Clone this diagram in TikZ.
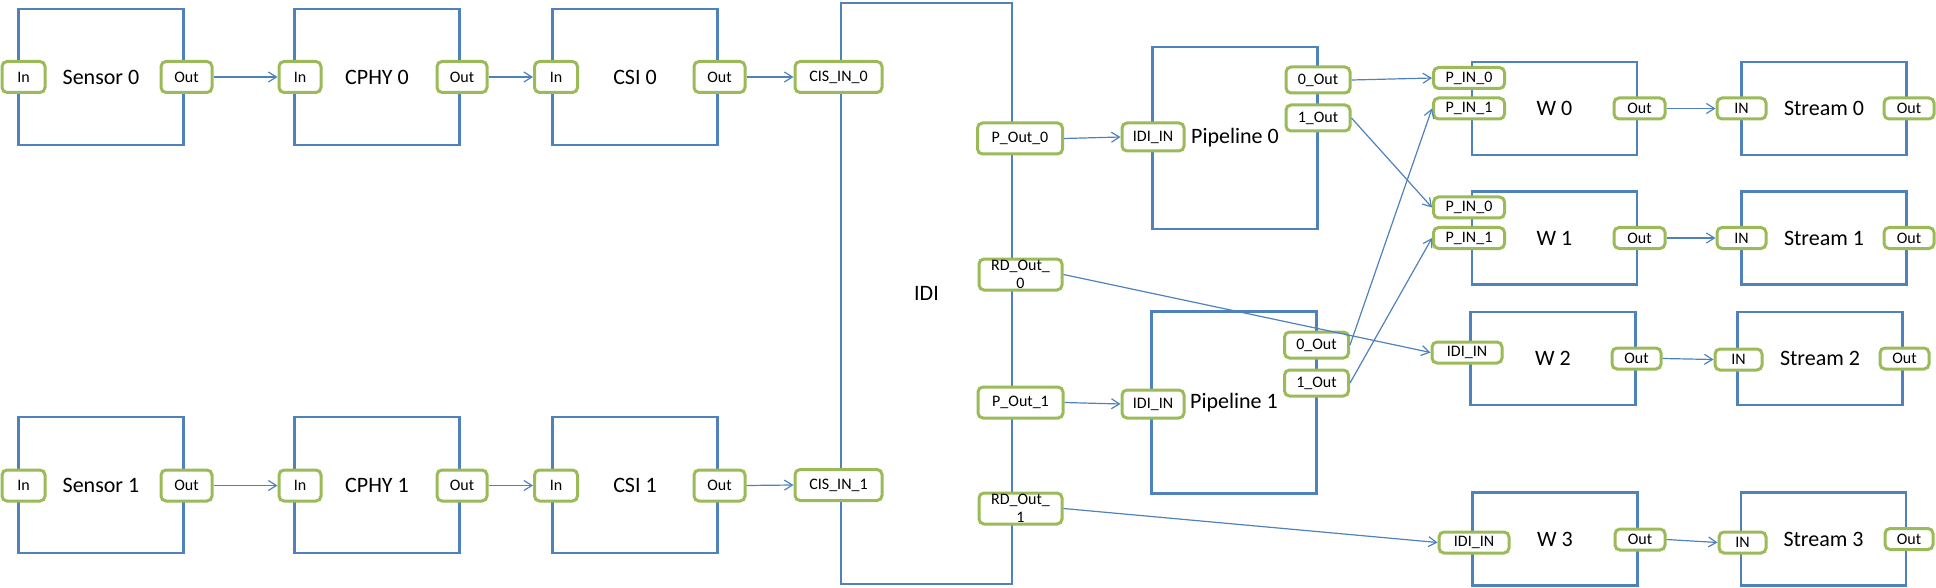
\documentclass[tikz,border=0pt]{standalone}
\usepackage{fontspec}
\setmainfont{Carlito}
\usepackage{tikz}
\usetikzlibrary{arrows.meta}
\definecolor{boxblue}{HTML}{4F81BD}
\definecolor{portgreen}{HTML}{9BBB59}
\tikzset{%
	block/.style = {draw=boxblue, line width=1.4pt, fill=white, minimum width=82.5pt, minimum height=68pt, font=\fontsize{11}{13}\selectfont},
	port/.style  = {draw=portgreen, line width=1.5pt, rounded corners=2.5pt, fill=white, inner sep=0.5pt, minimum height=15.5pt, font=\fontsize{8}{9}\selectfont},
	sport/.style = {port, minimum height=10.5pt},
	link/.style  = {draw=boxblue, line width=0.6pt, -{Straight Barb[length=4pt,width=5pt]}},
}

\begin{document}
\begin{tikzpicture}[x=0.5pt,y=-0.5pt]
	\useasboundingbox (0,0) rectangle (1936,588);
	% blocks
	\node[block] (sensor0) at (101,77) {Sensor 0};
	\node[block] (cphy0) at (377,77) {CPHY 0};
	\node[block] (csi0) at (635,77) {CSI 0};
	\node[block] (sensor1) at (101,485) {Sensor 1};
	\node[block] (cphy1) at (377,485) {CPHY 1};
	\node[block] (csi1) at (635,485) {CSI 1};
	\node[block, minimum width=85.5pt, minimum height=290.5pt] (idi) at (926.5,293.5) {IDI};
	\node[block, minimum height=91pt] (pipe0) at (1235,138) {Pipeline 0};
	\node[block, minimum height=91pt] (pipe1) at (1234,402.5) {Pipeline 1};
	\node[block, minimum height=46.5pt] (w0) at (1554.5,108.5) {W 0};
	\node[block, minimum height=46.5pt] (w1) at (1554.5,238) {W 1};
	\node[block, minimum height=46.5pt] (w2) at (1553,358.5) {W 2};
	\node[block, minimum height=46.5pt] (w3) at (1555,539) {W 3};
	\node[block, minimum height=46.5pt] (stream0) at (1824,108.5) {Stream 0};
	\node[block, minimum height=46.5pt] (stream1) at (1824,238) {Stream 1};
	\node[block, minimum height=46.5pt] (stream2) at (1820,358.5) {Stream 2};
	\node[block, minimum height=46.5pt] (stream3) at (1823.5,539) {Stream 3};
	% ports, row 0
	\node[port, minimum width=21.5pt] (sensor0in) at (23.5,77) {In};
	\node[port, minimum width=25.5pt] (sensor0out) at (186.5,77) {Out};
	\node[port, minimum width=21pt] (cphy0in) at (300,77) {In};
	\node[port, minimum width=25pt] (cphy0out) at (462,77) {Out};
	\node[port, minimum width=21.5pt] (csi0in) at (556,77) {In};
	\node[port, minimum width=25.5pt] (csi0out) at (719.5,77) {Out};
	\node[port, minimum width=43.5pt] (cisin0) at (838.5,77) {CIS\_IN\_0};
	% ports, row 1
	\node[port, minimum width=21.5pt] (sensor1in) at (23.5,485.5) {In};
	\node[port, minimum width=25.5pt] (sensor1out) at (186.5,485.5) {Out};
	\node[port, minimum width=21pt] (cphy1in) at (300,485.5) {In};
	\node[port, minimum width=25pt] (cphy1out) at (462,485.5) {Out};
	\node[port, minimum width=21.5pt] (csi1in) at (556,485.5) {In};
	\node[port, minimum width=25.5pt] (csi1out) at (719.5,485.5) {Out};
	\node[port, minimum width=43.5pt] (cisin1) at (838.5,485) {CIS\_IN\_1};
	% IDI outputs
	\node[port, minimum width=42.5pt] (pout0) at (1020,138.5) {P\_Out\_0};
	\node[port, minimum width=41.5pt, align=center] (rdout0) at (1020.5,274.5) {RD\_Out\_\\0};
	\node[port, minimum width=42.5pt] (pout1) at (1020.5,402.5) {P\_Out\_1};
	\node[port, minimum width=41.5pt, align=center] (rdout1) at (1020.5,508.5) {RD\_Out\_\\1};
	% pipeline ports
	\node[port, minimum width=31pt, minimum height=14pt] (pipe0in) at (1153,137) {IDI\_IN};
	\node[port, minimum width=31pt, minimum height=14pt] (pipe1in) at (1153,404) {IDI\_IN};
	\node[port, minimum width=32pt, minimum height=13pt] (pipe0out0) at (1318,80) {0\_Out};
	\node[port, minimum width=32pt, minimum height=13pt] (pipe0out1) at (1318,118) {1\_Out};
	\node[port, minimum width=32pt, minimum height=13pt] (pipe1out0) at (1316.5,345) {0\_Out};
	\node[port, minimum width=32pt, minimum height=13pt] (pipe1out1) at (1316.5,383) {1\_Out};
	% W and stream ports
	\node[sport, minimum width=35.5pt] (w0in0) at (1469,78) {P\_IN\_0};
	\node[sport, minimum width=35.5pt] (w0in1) at (1469,108.5) {P\_IN\_1};
	\node[sport, minimum width=25.5pt] (w0out) at (1639.5,108.5) {Out};
	\node[sport, minimum width=24.5pt] (stream0in) at (1741.5,108.5) {IN};
	\node[sport, minimum width=25pt] (stream0out) at (1909,108.5) {Out};
	\node[sport, minimum width=35.5pt] (w1in0) at (1469,207.5) {P\_IN\_0};
	\node[sport, minimum width=35.5pt] (w1in1) at (1469,238) {P\_IN\_1};
	\node[sport, minimum width=25.5pt] (w1out) at (1639.5,238) {Out};
	\node[sport, minimum width=24.5pt] (stream1in) at (1741.5,238) {IN};
	\node[sport, minimum width=25pt] (stream1out) at (1909,238) {Out};
	\node[sport, minimum width=35pt] (w2in) at (1467,352.5) {IDI\_IN};
	\node[sport, minimum width=24.5pt] (w2out) at (1636.5,358.5) {Out};
	\node[sport, minimum width=23.5pt] (stream2in) at (1738.5,359.5) {IN};
	\node[sport, minimum width=24.5pt] (stream2out) at (1904.5,358.5) {Out};
	\node[sport, minimum width=35pt] (w3in) at (1474,542.5) {IDI\_IN};
	\node[sport, minimum width=25pt] (w3out) at (1640,539.5) {Out};
	\node[sport, minimum width=23.5pt] (stream3in) at (1742.5,542.5) {IN};
	\node[sport, minimum width=24pt] (stream3out) at (1909,539) {Out};
	% connectors
	\draw[link] (sensor0out.east) -- (cphy0in.west);
	\draw[link] (cphy0out.east) -- (csi0in.west);
	\draw[link] (csi0out.east) -- (cisin0.west);
	\draw[link] (sensor1out.east) -- (cphy1in.west);
	\draw[link] (cphy1out.east) -- (csi1in.west);
	\draw[link] (csi1out.east) -- (cisin1.west);
	\draw[link] (pout0.east) -- (pipe0in.west);
	\draw[link] (pout1.east) -- (pipe1in.west);
	\draw[link] (rdout0.east) -- (w2in.west);
	\draw[link] (rdout1.east) -- (w3in.west);
	\draw[link] (pipe0out0.east) -- (w0in0.west);
	\draw[link] (pipe0out1.east) -- (w1in0.west);
	\draw[link] (pipe1out0.east) -- (w0in1.west);
	\draw[link] (pipe1out1.east) -- (w1in1.west);
	\draw[link] (w0out.east) -- (stream0in.west);
	\draw[link] (w1out.east) -- (stream1in.west);
	\draw[link] (w2out.east) -- (stream2in.west);
	\draw[link] (w3out.east) -- (stream3in.west);
\end{tikzpicture}
\end{document}
